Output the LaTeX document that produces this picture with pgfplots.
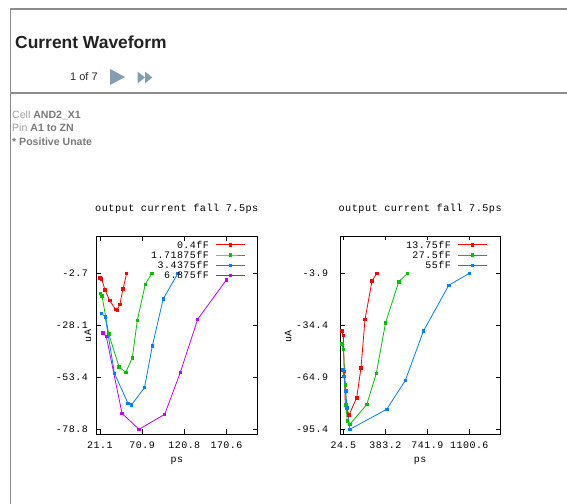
\documentclass[border=0pt]{standalone}
\usepackage{pgfplots}
\pgfplotsset{compat=1.18}
\usepackage{fontspec}
\setmainfont{Liberation Sans}
\newfontfamily\gp[LetterSpace=5]{Liberation Mono}
\definecolor{gpred}{HTML}{FF0000}
\definecolor{gpgreen}{HTML}{00C000}
\definecolor{gpblue}{HTML}{0080FF}
\definecolor{gpviolet}{HTML}{C000FF}
\definecolor{pgborder}{HTML}{8C8C8C}
\definecolor{icon}{HTML}{829CB2}
\definecolor{lightgr}{HTML}{A0A0A0}
\definecolor{boldgr}{HTML}{7A7A7A}
\pgfplotsset{
  gpaxis/.style={
    scale only axis, height=198bp,
    axis line style={line width=0.75bp},
    every tick/.style={black, line width=0.75bp},
    tick align=inside, major tick length=4.5bp,
    tick label style={font=\gp\fontsize{10}{10}\selectfont},
    xticklabel style={anchor=north, inner sep=0pt, yshift=-8bp},
    every axis title/.style={at={(axis description cs:0.5,1.139)}, anchor=center, font=\gp\fontsize{10.2}{10}\selectfont},
    every axis x label/.style={at={(axis description cs:0.5,-0.136)}, anchor=center, font=\gp\fontsize{10}{10}\selectfont},
    xlabel={ps}, ylabel={uA},
    title={output current fall 7.5ps},
    legend cell align=right, legend plot pos=right,
    legend image code/.code={\draw[mark repeat=2,mark phase=2,##1] plot coordinates {(0bp,0bp) (14.7bp,0bp) (29.4bp,0bp)};},
    legend style={anchor=north east, draw=none, fill=none, inner sep=0pt, outer sep=0pt,
      font=\gp\fontsize{10}{10}\selectfont, row sep=3.7bp,
      nodes={inner sep=0pt, text height=6.5bp, text depth=0bp},
      /tikz/every odd column/.append style={column sep=6.6bp}},
    every axis plot/.append style={line width=0.8bp, mark=square*, mark size=1.2bp, mark options={solid}},
  }
}
\begin{document}
\begin{tikzpicture}
\path[use as bounding box, fill=white] (0,0) rectangle (567bp,504bp);
% page frame
\draw[pgborder, line width=1.6bp] (10bp,495bp) -- (567bp,495bp);
\draw[pgborder, line width=1.2bp] (10.5bp,495bp) -- (10.5bp,0bp);
\draw[pgborder, line width=1.6bp] (10bp,410.7bp) -- (567bp,410.7bp);
\node[anchor=base west, inner sep=0pt, text={rgb,255:red,34;green,34;blue,34}, font=\fontsize{17.5}{20}\selectfont\bfseries] at (15bp,455.2bp) {Current Waveform};
\node[anchor=base west, inner sep=0pt, text={rgb,255:red,40;green,40;blue,40}, font=\fontsize{11}{13}\selectfont] at (70bp,423bp) {1 of 7};
\fill[icon] (110bp,435bp) -- (110bp,419bp) -- (125bp,427bp) -- cycle;
\fill[icon] (137.7bp,432.3bp) -- (137.7bp,420.7bp) -- (145bp,426.5bp) -- cycle;
\fill[icon] (145bp,432.3bp) -- (145bp,420.7bp) -- (152.3bp,426.5bp) -- cycle;
\node[anchor=base west, inner sep=0pt, font=\fontsize{10.6}{12}\selectfont] at (12bp,385bp) {\textcolor{lightgr}{Cell} \textcolor{boldgr}{\bfseries AND2\_X1}};
\node[anchor=base west, inner sep=0pt, font=\fontsize{10.6}{12}\selectfont] at (12bp,372bp) {\textcolor{lightgr}{Pin} \textcolor{boldgr}{\bfseries A1 to ZN}};
\node[anchor=base west, inner sep=0pt, font=\fontsize{10.6}{12}\selectfont] at (12bp,358.5bp) {\textcolor{boldgr}{\bfseries * Positive Unate}};

% left plot
\begin{axis}[gpaxis, at={(96.3bp,70bp)}, anchor=south west, width=161bp,
  xmin=16.85, xmax=207.0, ymin=-81.1, ymax=15.7,
  xtick={21.1,70.933,120.767,170.6}, xticklabels={21.1,70.9,120.8,170.6},
  ytick={-78.8,-53.433,-28.067,-2.7}, yticklabels={-78.8,-53.4,-28.1,-2.7},
  yticklabel style={anchor=east, inner sep=0pt, xshift=-8.3bp},
  every axis y label/.style={at={(axis description cs:-0.0516,0.495)}, anchor=center, rotate=90, font=\gp\fontsize{10}{10}\selectfont},
  legend style={at={(axis description cs:0.928,0.972)}},
]
\addplot[gpred] coordinates {(21.1,-4.7) (23.2,-5.3) (27.1,-10.7) (32.7,-15.9) (39.8,-20.3) (41.6,-20.6) (44.8,-17.6) (48.4,-10.1) (52.7,-2.7)};
\addlegendentry{0.4fF}
\addplot[gpgreen] coordinates {(22.0,-12.5) (23.6,-13.6) (31.5,-32.2) (43.7,-48.2) (51.6,-51.0) (59.4,-43.8) (65.3,-25.5) (74.7,-7.9) (82.3,-2.7)};
\addlegendentry{1.71875fF}
\addplot[gpblue] coordinates {(23.2,-22.2) (27.4,-23.9) (38.3,-51.5) (54.4,-66.2) (58.4,-66.9) (73.8,-58.4) (83.0,-38.1) (95.9,-15.0) (113.0,-2.7)};
\addlegendentry{3.4375fF}
\addplot[gpviolet] coordinates {(24.8,-31.6) (28.7,-33.5) (47.2,-71.0) (67.3,-78.8) (97.6,-71.5) (116.0,-51.1) (136.6,-25.0) (170.6,-5.7)};
\addlegendentry{6.875fF}
\end{axis}

% right plot
\begin{axis}[gpaxis, at={(340bp,70bp)}, anchor=south west, width=160.3bp,
  xmin=-3.7, xmax=1365.3, ymin=-98.2, ymax=18.0,
  xtick={24.5,383.2,741.9,1100.6}, xticklabels={24.5,383.2,741.9,1100.6},
  ytick={-95.4,-64.9,-34.4,-3.9}, yticklabels={-95.4,-64.9,-34.4,-3.9},
  yticklabel style={anchor=east, inner sep=0pt, xshift=-11.7bp},
  every axis y label/.style={at={(axis description cs:-0.324,0.492)}, anchor=center, rotate=90, font=\gp\fontsize{10}{10}\selectfont},
  legend style={at={(axis description cs:0.921,0.972)}},
]
\addplot[gpred] coordinates {(10.8,-37.7) (24.5,-40.5) (33.0,-61.6) (41.6,-81.3) (53.5,-83.1) (73.2,-87.0) (138.9,-76.9) (175.7,-59.3) (209.9,-30.9) (269.6,-8.4) (309.7,-3.9)};
\addlegendentry{13.75fF}
\addplot[gpgreen] coordinates {(13.4,-45.4) (24.5,-48.7) (41.6,-69.4) (47.6,-81.1) (57.8,-90.5) (81.7,-92.4) (224.3,-81.0) (306.3,-62.6) (384.9,-33.1) (497.6,-8.9) (571.0,-3.9)};
\addlegendentry{27.5fF}
\addplot[gpblue] coordinates {(19.4,-60.6) (30.5,-64.5) (45.0,-72.9) (56.1,-82.9) (81.7,-95.4) (395.1,-83.7) (554.0,-66.8) (709.4,-37.7) (925.5,-10.9) (1100.6,-3.9)};
\addlegendentry{55fF}
\end{axis}
\end{tikzpicture}
\end{document}
